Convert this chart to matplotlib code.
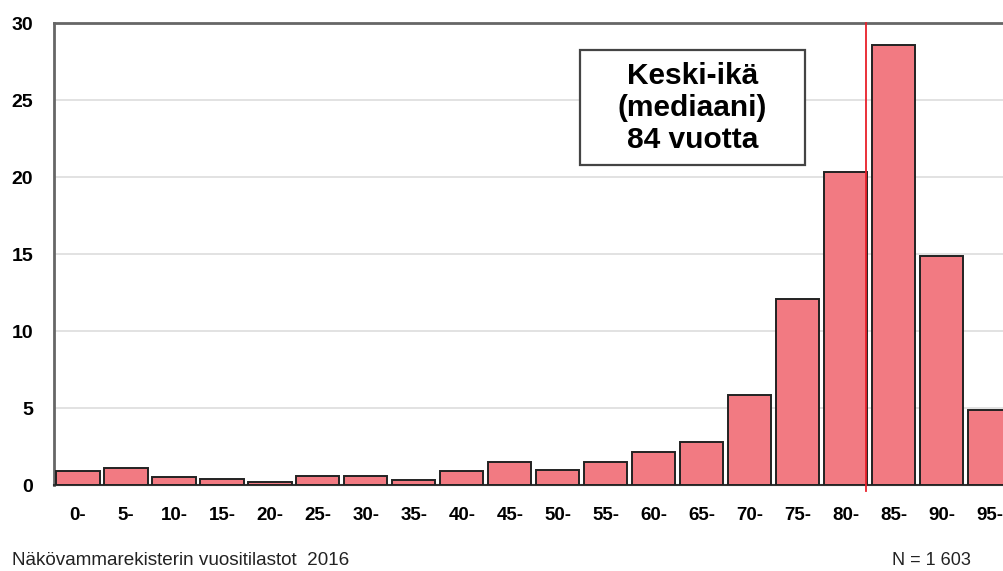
import matplotlib
matplotlib.use("Agg")
import matplotlib.pyplot as plt
from matplotlib.patches import Rectangle

plt.rcParams['font.family'] = ['Liberation Sans', 'DejaVu Sans']

# Age groups (5-year bins) and share of registered people (%)
age_groups = ["0-", "5-", "10-", "15-", "20-", "25-", "30-", "35-", "40-", "45-",
              "50-", "55-", "60-", "65-", "70-", "75-", "80-", "85-", "90-", "95-"]
share_pct = [0.9, 1.1, 0.5, 0.37, 0.2, 0.58, 0.58, 0.3, 0.93, 1.5,
             0.97, 1.5, 2.16, 2.77, 5.84, 12.08, 20.3, 28.6, 14.87, 4.87]
y_ticks = [0, 5, 10, 15, 20, 25, 30]
median_label = "Keski-ikä\n(mediaani)\n84 vuotta"
median_line_x = 16.42
footer_left = "Näkövammarekisterin vuositilastot  2016"
footer_right = "N = 1 603"

fig = plt.figure(figsize=(10.04, 5.71), dpi=100)
ax = fig.add_axes([0.0538, 0.1506, 0.9462, 0.8091])

x = list(range(len(age_groups)))
ax.bar(x, share_pct, width=0.9, color="#f27a82", edgecolor="#222222",
       linewidth=1.4, zorder=3)

ax.set_xlim(-0.5, 19.3)
ax.set_ylim(0, 30)
ax.set_yticks(y_ticks)
ax.set_yticklabels([str(v) for v in y_ticks], fontsize=14, fontweight="bold")
ax.set_xticks(x)
ax.set_xticklabels(age_groups, fontsize=13.5, fontweight="bold")
ax.tick_params(axis="both", length=0)
ax.tick_params(axis="y", pad=15)
ax.tick_params(axis="x", pad=16)

ax.yaxis.grid(True, color="#dddddd", linewidth=1.2, zorder=0)
ax.set_axisbelow(True)

for side in ("left", "top"):
    ax.spines[side].set_color("#666666")
    ax.spines[side].set_linewidth(2.0)
ax.spines["bottom"].set_color("#333333")
ax.spines["bottom"].set_linewidth(1.5)
ax.spines["right"].set_visible(False)

# Median marker
ax.plot([median_line_x, median_line_x], [-0.4, 30], color="#e8202a",
        linewidth=1.3, zorder=4, clip_on=False)

# Median annotation box
fig.add_artist(Rectangle((0.5777, 0.711), 0.224, 0.2014, transform=fig.transFigure,
                         facecolor="white", edgecolor="#444444", linewidth=1.6,
                         zorder=5))
fig.text(0.6897, 0.8109, median_label, ha="center", va="center",
         fontsize=21.5, fontweight="bold", linespacing=1.2, zorder=6)

fig.text(0.012, 0.003, footer_left, fontsize=13.6, ha="left", va="bottom",
         color="#222222")
fig.text(0.888, 0.003, footer_right, fontsize=13, ha="left", va="bottom",
         color="#222222")

fig.savefig("out.png", dpi=100, facecolor="white")
